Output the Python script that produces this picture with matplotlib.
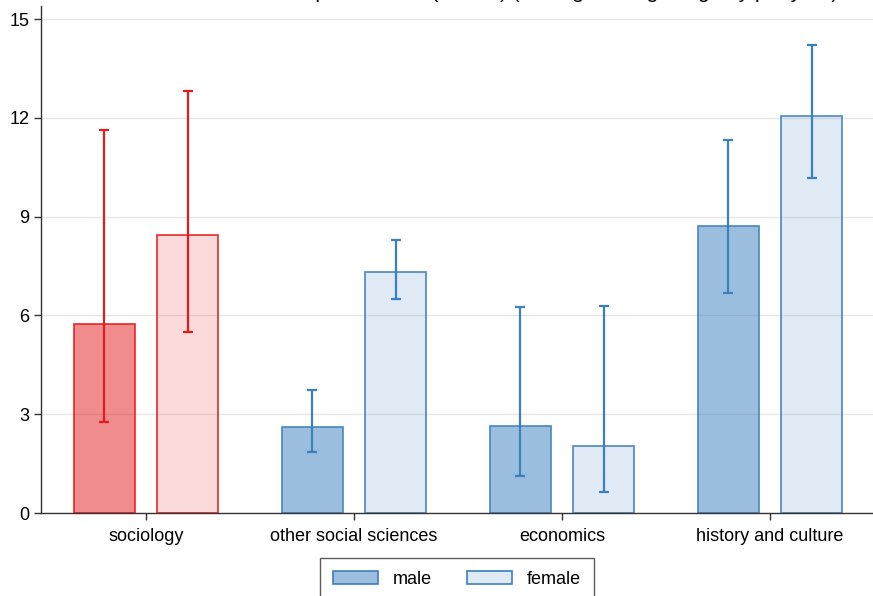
import numpy as np
import matplotlib
matplotlib.use("Agg")
import matplotlib.pyplot as plt
from matplotlib.patches import Patch

# values
fields = ["sociology", "other social sciences", "economics", "history and culture"]
male_mean = [5.74, 2.62, 2.65, 8.72]
male_lo = [2.76, 1.86, 1.12, 6.69]
male_hi = [11.63, 3.74, 6.25, 11.33]
female_mean = [8.44, 7.33, 2.02, 12.05]
female_lo = [5.51, 6.50, 0.65, 10.19]
female_hi = [12.82, 8.29, 6.30, 14.21]

highlight = "sociology"

plt.rcParams['font.family'] = ['Liberation Sans', 'DejaVu Sans']

RED = "#e41a1c"
BLUE = "#3a7fbf"

fig = plt.figure(figsize=(8.73, 5.96), dpi=100)
ax = fig.add_axes([41/873, 1-513/596, 1-41/873, (513-6)/596])

x = np.arange(len(fields))
w = 0.293
off = 0.2

for i, f in enumerate(fields):
    c = RED if f == highlight else BLUE
    for xpos, m, lo, hi, a in [(x[i]-off, male_mean[i], male_lo[i], male_hi[i], 0.5),
                               (x[i]+off, female_mean[i], female_lo[i], female_hi[i], 0.16)]:
        ax.bar(xpos, m, width=w, color=matplotlib.colors.to_rgba(c, a),
               edgecolor=matplotlib.colors.to_rgba(c, 0.85), linewidth=1.3, zorder=2)
        ax.errorbar(xpos, m, yerr=[[m-lo], [hi-m]], fmt='none', ecolor=c,
                    elinewidth=1.6, capsize=3.8, capthick=1.6, zorder=3)

ax.set_xlim(-0.505, 3.495)
ax.set_ylim(0, 15.4)
ax.set_yticks([0, 3, 6, 9, 12, 15])
ax.set_xticks(x)
ax.set_xticklabels(fields)
ax.yaxis.grid(True, color="#e6e6e6", linewidth=1.0, zorder=0)
ax.set_axisbelow(True)
for s in ["top", "right"]:
    ax.spines[s].set_visible(False)
for s in ["left", "bottom"]:
    ax.spines[s].set_color("#333333")
    ax.spines[s].set_linewidth(1.0)
ax.tick_params(axis='both', labelsize=13, color="#333333", length=5, width=1.0)
ax.tick_params(axis='x', pad=6)

handles = [Patch(facecolor=matplotlib.colors.to_rgba(BLUE, 0.5), edgecolor=BLUE, linewidth=1.2, label="male"),
           Patch(facecolor=matplotlib.colors.to_rgba(BLUE, 0.16), edgecolor=BLUE, linewidth=1.2, label="female")]
leg = fig.legend(handles=handles, loc='upper center', bbox_to_anchor=(457/873, 1-558/596),
                 ncol=2, fontsize=13, frameon=True, fancybox=False, edgecolor="#333333",
                 handlelength=2.5, handleheight=0.8, columnspacing=1.9, borderpad=0.7,
                 handletextpad=0.85, borderaxespad=0)
leg.get_frame().set_linewidth(1.0)

# title is clipped off at the top of the image, as in the source
fig.text(838/873, 1.0 + 2/596, "Number of publications (in total) (among those getting any per year)",
         ha='right', va='baseline', fontsize=15)

fig.savefig("out.png", dpi=100)
